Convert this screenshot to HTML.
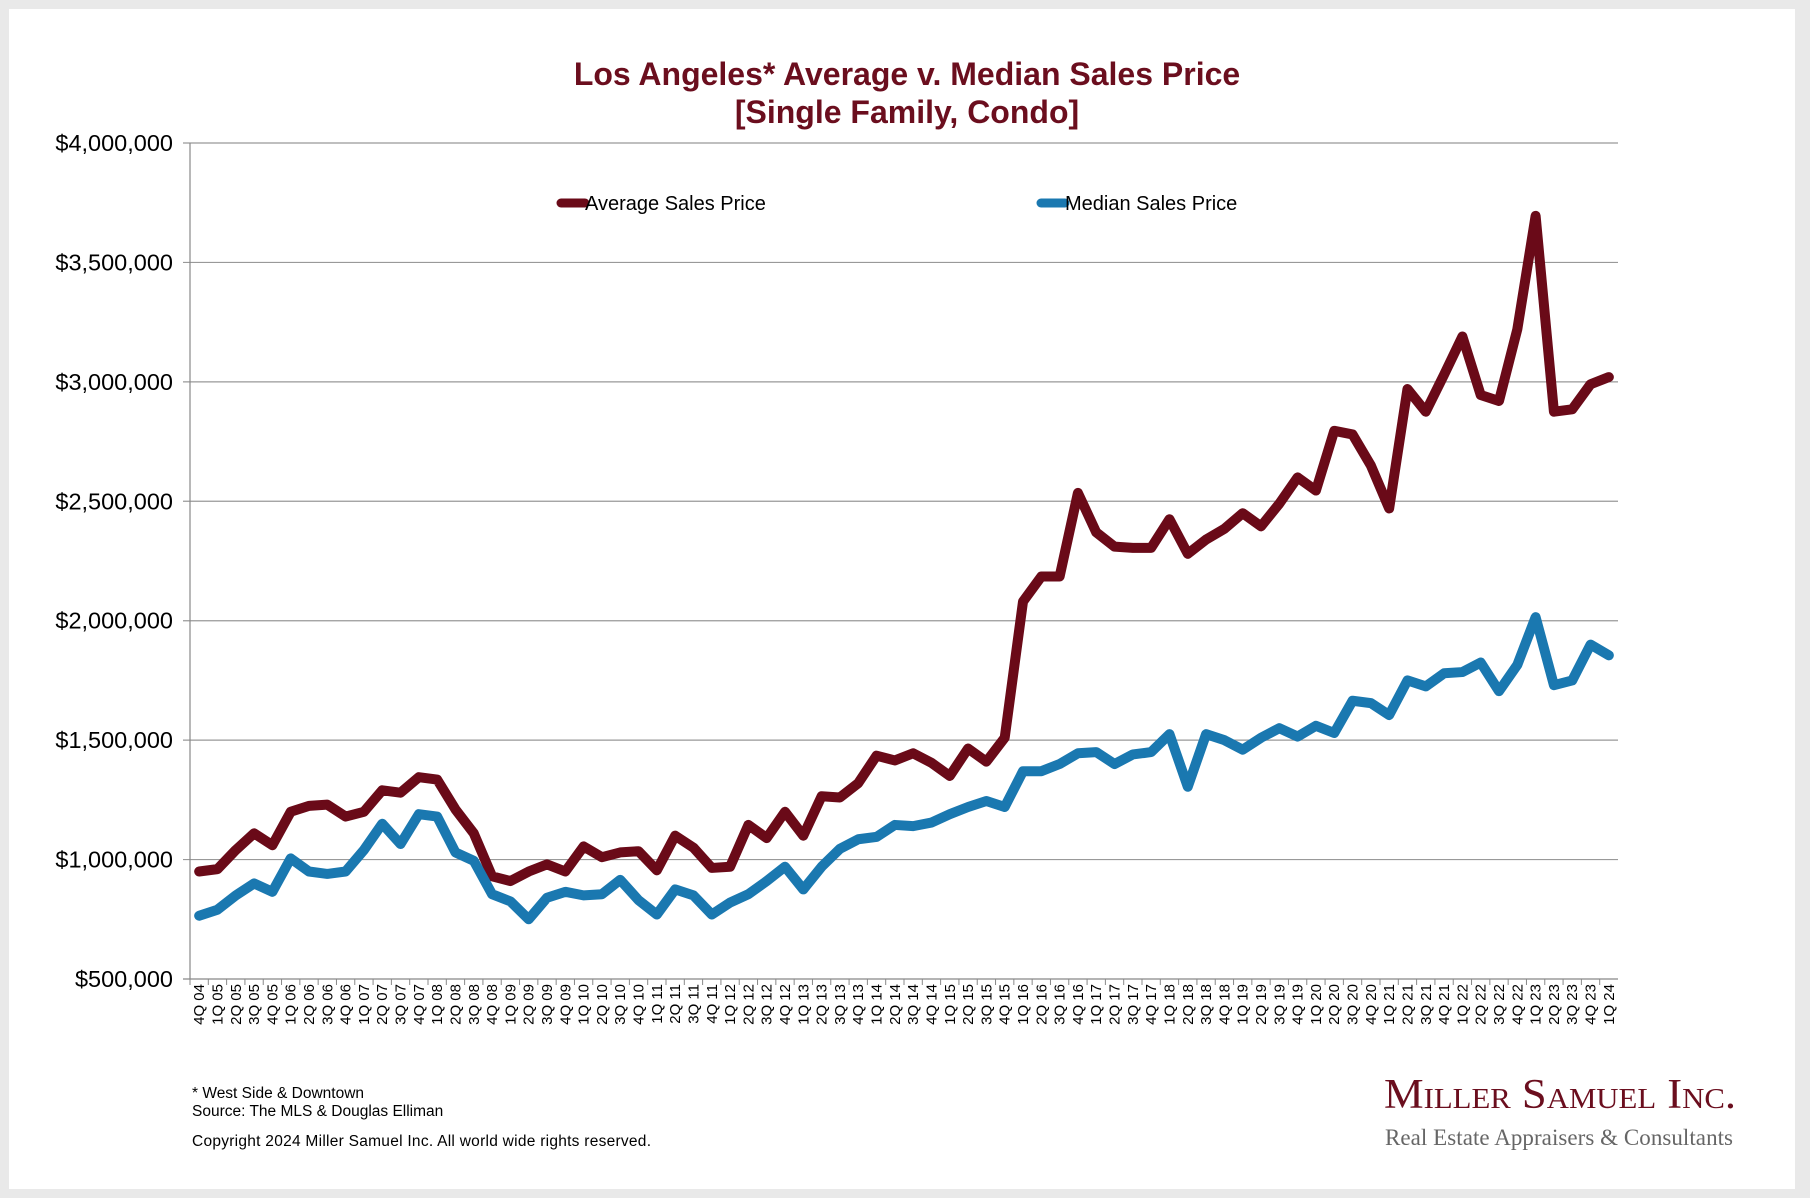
<!DOCTYPE html>
<html><head><meta charset="utf-8"><style>
body{margin:0;background:#e9e9e9;width:1810px;height:1198px;overflow:hidden;font-family:"Liberation Sans",Arial,sans-serif}
#panel{position:absolute;left:9px;top:9px;width:1786px;height:1180px;background:#fff}
</style></head><body>
<div id="panel"></div>
<svg id="chart" width="1810" height="1198" style="position:absolute;left:0;top:0"></svg>
<script>
const categories=["4Q 04","1Q 05","2Q 05","3Q 05","4Q 05","1Q 06","2Q 06","3Q 06","4Q 06","1Q 07","2Q 07","3Q 07","4Q 07","1Q 08","2Q 08","3Q 08","4Q 08","1Q 09","2Q 09","3Q 09","4Q 09","1Q 10","2Q 10","3Q 10","4Q 10","1Q 11","2Q 11","3Q 11","4Q 11","1Q 12","2Q 12","3Q 12","4Q 12","1Q 13","2Q 13","3Q 13","4Q 13","1Q 14","2Q 14","3Q 14","4Q 14","1Q 15","2Q 15","3Q 15","4Q 15","1Q 16","2Q 16","3Q 16","4Q 16","1Q 17","2Q 17","3Q 17","4Q 17","1Q 18","2Q 18","3Q 18","4Q 18","1Q 19","2Q 19","3Q 19","4Q 19","1Q 20","2Q 20","3Q 20","4Q 20","1Q 21","2Q 21","3Q 21","4Q 21","1Q 22","2Q 22","3Q 22","4Q 22","1Q 23","2Q 23","3Q 23","4Q 23","1Q 24"];
const averagePrice=[0.95,0.96,1.04,1.11,1.06,1.20,1.225,1.23,1.18,1.20,1.29,1.28,1.345,1.335,1.21,1.11,0.93,0.91,0.95,0.98,0.95,1.055,1.01,1.03,1.035,0.955,1.10,1.05,0.965,0.97,1.145,1.09,1.20,1.10,1.265,1.26,1.32,1.435,1.415,1.445,1.405,1.35,1.465,1.41,1.51,2.08,2.185,2.185,2.535,2.37,2.31,2.305,2.305,2.425,2.28,2.34,2.385,2.45,2.395,2.49,2.60,2.545,2.795,2.78,2.65,2.47,2.97,2.875,3.03,3.19,2.945,2.92,3.22,3.695,2.875,2.885,2.99,3.02].map(v=>v*1e6);
const medianPrice=[0.765,0.79,0.85,0.90,0.865,1.005,0.95,0.94,0.95,1.04,1.15,1.065,1.19,1.18,1.03,0.995,0.855,0.825,0.75,0.84,0.865,0.85,0.855,0.915,0.83,0.77,0.875,0.85,0.77,0.82,0.855,0.91,0.97,0.875,0.97,1.045,1.085,1.095,1.145,1.14,1.155,1.19,1.22,1.245,1.22,1.37,1.37,1.40,1.445,1.45,1.40,1.44,1.45,1.525,1.305,1.525,1.50,1.46,1.51,1.55,1.515,1.56,1.53,1.665,1.655,1.605,1.75,1.725,1.78,1.785,1.825,1.705,1.815,2.015,1.73,1.75,1.90,1.855].map(v=>v*1e6);
const yTicks=[500000,1000000,1500000,2000000,2500000,3000000,3500000,4000000];
const yTickLabels=["$500,000","$1,000,000","$1,500,000","$2,000,000","$2,500,000","$3,000,000","$3,500,000","$4,000,000"];

const svg=document.getElementById('chart');const NS='http://www.w3.org/2000/svg';
const L=190,R=1618,T=143,B=979,yMin=500000,yMax=4000000;
const bw=(R-L)/categories.length;
const x=i=>L+bw*(i+0.5);
const y=v=>B-(v-yMin)/(yMax-yMin)*(B-T);
function mk(tag,attrs,parent){const e=document.createElementNS(NS,tag);for(const k in attrs)e.setAttribute(k,attrs[k]);(parent||svg).appendChild(e);return e;}
function txt(s,attrs){const e=mk('text',attrs);e.textContent=s;return e;}

let t=txt('Los Angeles* Average v. Median Sales Price',{x:907,y:85,'text-anchor':'middle','font-size':32,'font-weight':'bold',fill:'#6b0e1e'});

t=txt('[Single Family, Condo]',{x:907,y:123,'text-anchor':'middle','font-size':32,'font-weight':'bold',fill:'#6b0e1e'});


yTicks.forEach((v,i)=>{
  const g=mk('line',{x1:L-7,x2:R,y1:y(v),y2:y(v),stroke:i==0?'#888':'#999','stroke-width':1.2});
  
  const l=txt(yTickLabels[i],{x:173,y:y(v)+8,'text-anchor':'end','font-size':23.5,fill:'#000'});
  
});
let ax=mk('line',{x1:L,x2:L,y1:T,y2:B,stroke:'#888','stroke-width':1.2});

categories.forEach((c,i)=>{
  const tk=mk('line',{x1:L+bw*i,x2:L+bw*i,y1:B,y2:B+6,stroke:'#888','stroke-width':1});
  
  const l=txt(c,{x:0,y:0,'text-anchor':'end','font-size':15,fill:'#000',transform:`translate(${x(i)+5},${B+5}) rotate(-90)`});
  
});
function series(vals,color,name){
  const p=mk('polyline',{points:vals.map((v,i)=>x(i)+','+y(v)).join(' '),fill:'none',stroke:color,'stroke-width':10,'stroke-linejoin':'round','stroke-linecap':'round'});
  
}
series(averagePrice,'#6a0a18','average-sales-price-line');
series(medianPrice,'#1a78b0','median-sales-price-line');

function legend(x0,color,label,name){
  const l=mk('line',{x1:x0,x2:x0+24,y1:203,y2:203,stroke:color,'stroke-width':9,'stroke-linecap':'round'});
  
  const tt=txt(label,{x:x0+24,y:210,'font-size':20,fill:'#000'});
  
}
legend(561,'#6a0a18','Average Sales Price','legend-average');
legend(1041,'#1a78b0','Median Sales Price','legend-median');

t=txt('* West Side & Downtown',{x:192,y:1098,'font-size':15.5,fill:'#000'});
t=txt('Source: The MLS & Douglas Elliman',{x:192,y:1116,'font-size':15.5,fill:'#000'});
t=txt('Copyright 2024 Miller Samuel Inc.  All world wide rights reserved.',{x:192,y:1146,'font-size':15.5,fill:'#000','xml:space':'preserve','textLength':459});
t=txt('Miller Samuel Inc.',{x:1384,y:1108,'font-size':42,fill:'#6b0e1e','font-family':'"Liberation Serif",serif','font-variant':'small-caps','textLength':352,'lengthAdjust':'spacingAndGlyphs'});
t=txt('Real Estate Appraisers & Consultants',{x:1385,y:1145,'font-size':23,fill:'#666','font-family':'"Liberation Serif",serif','textLength':348});
</script>
</body></html>
